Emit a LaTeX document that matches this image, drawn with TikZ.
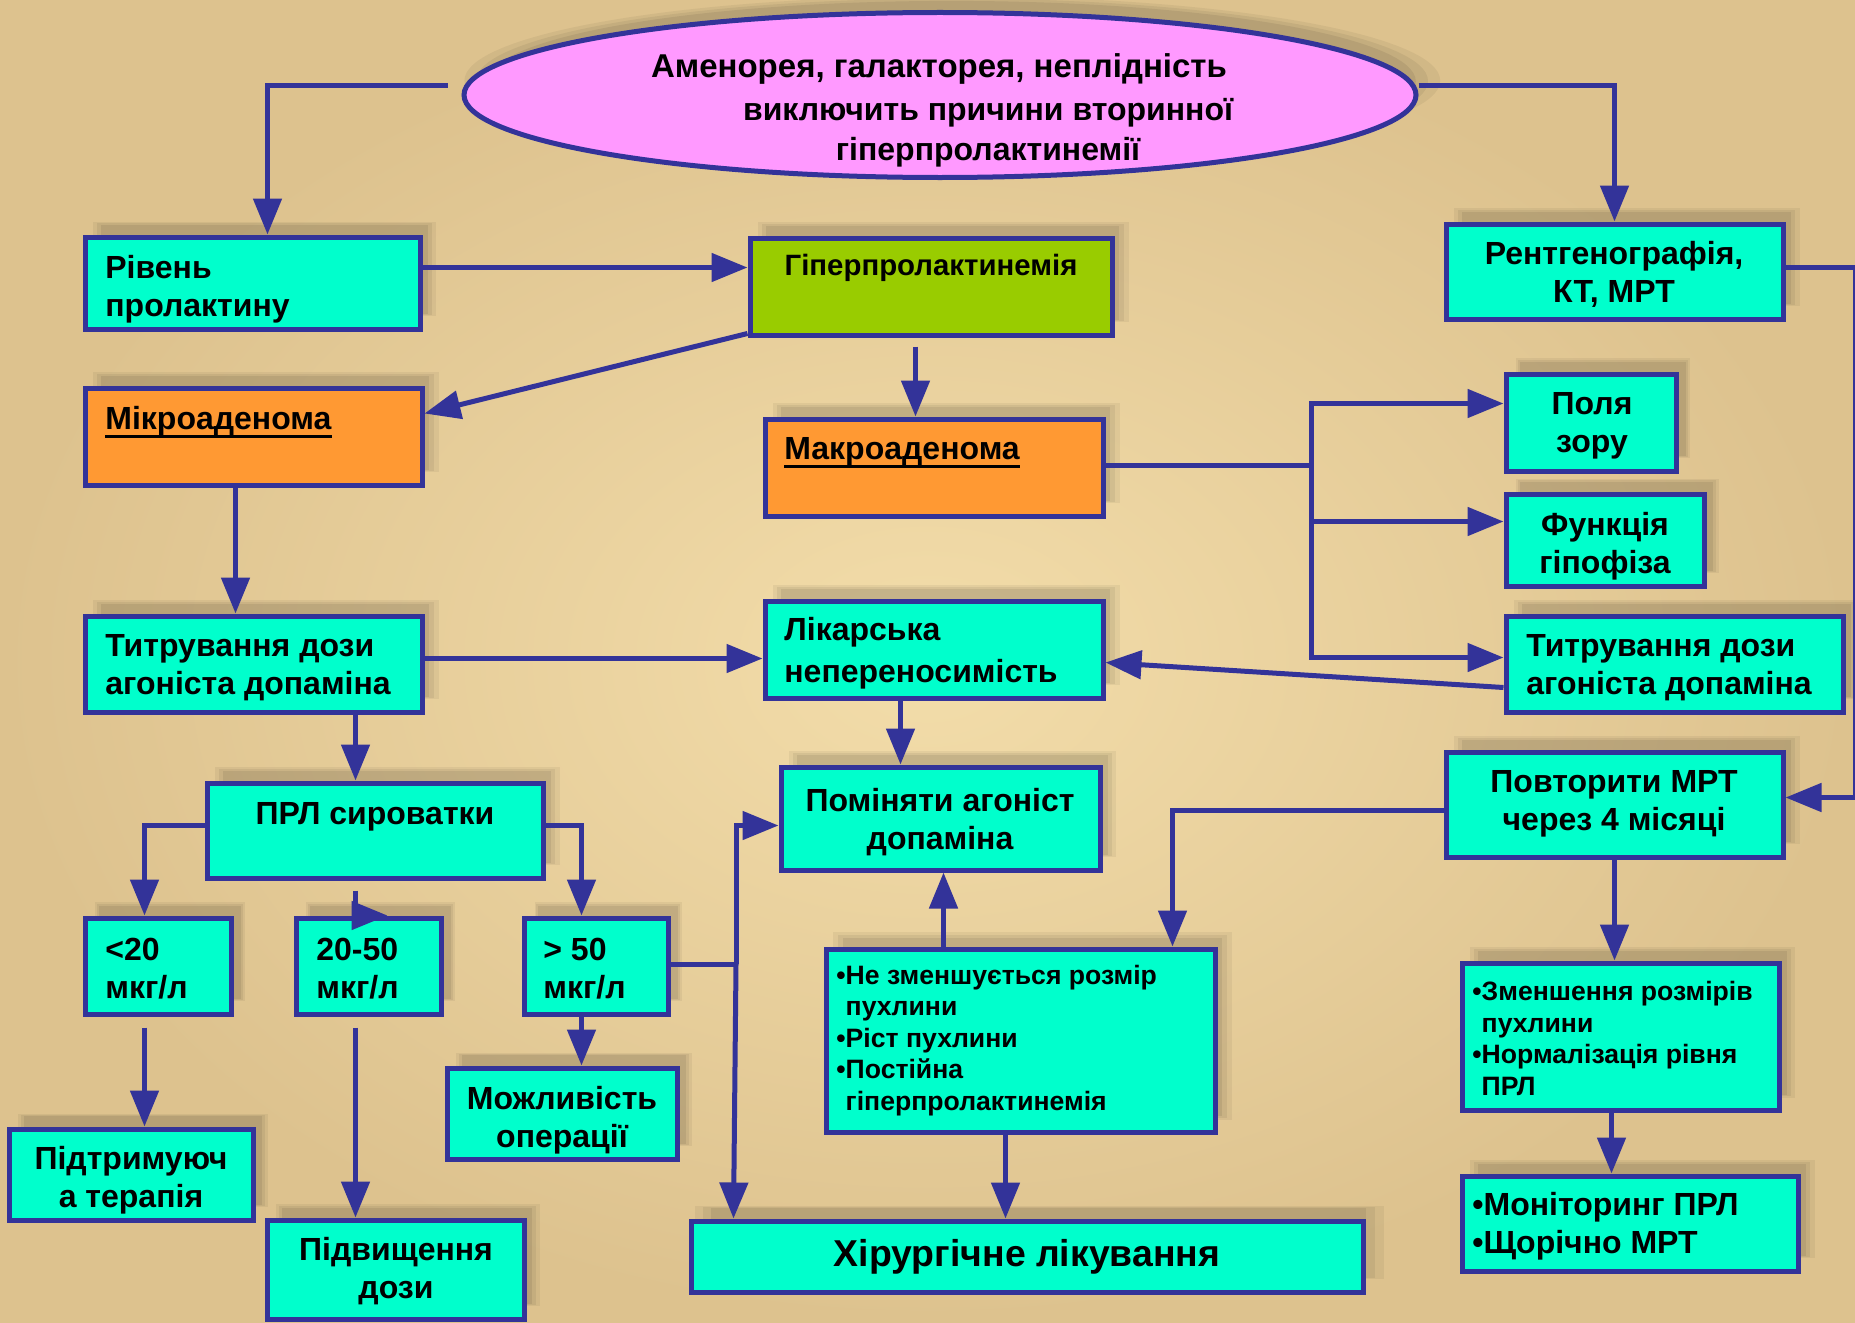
\documentclass[tikz,border=0pt]{standalone}
\usepackage{fontspec}
\setmainfont{Liberation Sans}
\usetikzlibrary{arrows.meta,shapes.geometric,fit,calc,shadows}
\definecolor{bl}{HTML}{333399}
\definecolor{aq}{HTML}{00FFCC}
\definecolor{gr}{HTML}{99CC00}
\definecolor{orn}{HTML}{FF9933}
\definecolor{pnk}{HTML}{FF99FF}
\definecolor{bgA}{HTML}{F3DDAA}
\definecolor{bgB}{HTML}{DDC28E}
\tikzset{
 shad/.style={
   drop shadow={shadow xshift=6pt, shadow yshift=7pt, shadow scale=1.025, opacity=0.05, fill=black},
   drop shadow={shadow xshift=6pt, shadow yshift=7pt, opacity=0.06, fill=black},
   drop shadow={shadow xshift=6pt, shadow yshift=7pt, shadow scale=0.975, opacity=0.07, fill=black}},
 boxst/.style={draw=bl, line width=2.5pt, inner sep=0pt, shad},
 txt/.style={inner sep=0pt, yshift=-1.75pt, font=\bfseries\fontsize{16}{19}\selectfont, text=black},
 smalltxt/.style={inner sep=0pt, yshift=-1.25pt, font=\bfseries\fontsize{13.3}{15.75}\selectfont, text=black},
 conn/.style={draw=bl, line width=2.5pt},
 arr/.style={conn, -{Triangle[length=18pt,width=14pt]}},
 uline/.style={draw=black, line width=1.5pt},
}
\newcommand\mkbox[6]{\node[boxst, fill=#6, fit={(#2,#3)(#4,#5)}] (#1) {};}
\begin{document}
\begin{tikzpicture}[x=0.5pt,y=-0.5pt]
\useasboundingbox (0,0) rectangle (1855,1322);
\shade[inner color=bgA, outer color=bgB] (0,0) rectangle (1855,1322);

% ellipse
\node[ellipse, draw=bl, line width=2.5pt, fill=pnk, minimum width=476pt, minimum height=82.5pt, inner sep=0pt, shad] (ell) at (940,95) {};
\node[txt, font=\bfseries\fontsize{16.5}{19}\selectfont] (e1) at (939,65) {Аменорея, галакторея, неплідність};
\node[txt] (e2) at (988,109) {виключить причини вторинної};
\node[txt] (e3) at (988,149) {гіперпролактинемії};

% boxes
\mkbox{riven}{85}{237}{420}{329}{aq}
\mkbox{giper}{750}{238}{1112}{335}{gr}
\mkbox{rentg}{1446}{224}{1783}{319}{aq}
\mkbox{mikro}{85}{388}{422}{485}{orn}
\mkbox{makro}{765}{419}{1103}{516}{orn}
\mkbox{polya}{1506}{374}{1676}{471}{aq}
\mkbox{funk}{1506}{494}{1704}{586}{aq}
\mkbox{titrR}{1506}{616}{1843}{712}{aq}
\mkbox{titrL}{85}{616}{422}{712}{aq}
\mkbox{likar}{765}{601}{1103}{698}{aq}
\mkbox{prl}{207}{783}{543}{878}{aq}
\mkbox{pomin}{781}{767}{1100}{870}{aq}
\mkbox{povt}{1446}{752}{1783}{857}{aq}
\mkbox{lt20}{85}{918}{231}{1014}{aq}
\mkbox{m2050}{296}{918}{441}{1014}{aq}
\mkbox{gt50}{524}{918}{668}{1014}{aq}
\mkbox{nezm}{826}{949}{1215}{1132}{aq}
\mkbox{zmen}{1462}{963}{1779}{1110}{aq}
\mkbox{mozh}{447}{1068}{677}{1159}{aq}
\mkbox{pidtr}{9}{1129}{253}{1220}{aq}
\mkbox{pidv}{267}{1220}{524}{1319}{aq}
\mkbox{hir}{691}{1221}{1363}{1292}{aq}
\mkbox{monit}{1462}{1176}{1798}{1271}{aq}

% texts
\node[txt, anchor=west, align=left] (rivenT) at (105,286) {Рівень\\пролактину};
\node[txt, font=\bfseries\fontsize{14.7}{19}\selectfont] (giperT) at (931,264) {Гіперпролактинемія};
\node[txt, align=center] (rentgT) at (1614,271) {Рентгенографія,\\КТ, МРТ};
\node[txt, anchor=west] (mikroT) at (105,418) {Мікроаденома};
\draw[uline] ($(mikroT.base west)+(0,7)$) -- ($(mikroT.base east)+(0,7)$);
\node[txt, anchor=west] (makroT) at (784,448) {Макроаденома};
\draw[uline] ($(makroT.base west)+(0,7)$) -- ($(makroT.base east)+(0,7)$);
\node[txt, align=center] (polyaT) at (1592,422) {Поля\\зору};
\node[txt, align=center] (funkT) at (1605,543) {Функція\\гіпофіза};
\node[txt, anchor=west, align=left] (titrRT) at (1526,664) {Титрування дози\\агоніста допаміна};
\node[txt, anchor=west, align=left] (titrLT) at (105,664) {Титрування дози\\агоніста допаміна};
\node[txt, anchor=west, align=left, font=\bfseries\fontsize{16}{21}\selectfont] (likarT) at (784,650) {Лікарська\\непереносимість};
\node[txt] (prlT) at (375,813) {ПРЛ сироватки};
\node[txt, align=center] (pominT) at (940,819) {Поміняти агоніст\\допаміна};
\node[txt, align=center] (povtT) at (1614,800) {Повторити МРТ\\через 4 місяці};
\node[txt, anchor=west, align=left] (lt20T) at (105,965) {<20\\мкг/л};
\node[txt, anchor=west, align=left] (m2050T) at (316,965) {20-50\\мкг/л};
\node[txt, anchor=west, align=left] (gt50T) at (543,965) {> 50\\мкг/л};
\node[smalltxt, anchor=west, align=left] (nezmT) at (836,1038) {•Не зменшується розмір\\\hphantom{•}пухлини\\•Ріст пухлини\\•Постійна\\\hphantom{•}гіперпролактинемія};
\node[smalltxt, anchor=west, align=left] (zmenT) at (1472,1036) {•Зменшення розмірів\\\hphantom{•}пухлини\\•Нормалізація рівня\\\hphantom{•}ПРЛ};
\node[txt, align=center] (mozhT) at (562,1117) {Можливість\\операції};
\node[txt, align=center] (pidtrT) at (131,1177) {Підтримуюч\\а терапія};
\node[txt, align=center] (pidvT) at (396,1268) {Підвищення\\дози};
\node[txt, font=\bfseries\fontsize{18.7}{22}\selectfont] (hirT) at (1027,1253) {Хірургічне лікування};
\node[txt, anchor=west, align=left] (monitT) at (1472,1223) {•Моніторинг ПРЛ\\•Щорічно МРТ};

% junction coordinates
\coordinate (jM) at (1311,465);
\coordinate (jG) at (736,964);

% connectors
\draw[arr] ($(ell.west)+(-14,-9)$) -| ($(riven.north west)+(185,0)$);
\draw[arr] ($(ell.east)+(0,-9)$) -| (rentg.north);
\draw[arr] ($(riven.north east)+(0,33)$) -- ($(giper.north west)+(0,32)$);
\draw[arr] ($(giper.south west)+(0,-4)$) -- ($(mikro.north east)+(0,28)$);
\draw[arr] ($(giper.south west)+(168,9)$) -- ($(makro.north west)+(153,0)$);
\draw[arr] ($(rentg.north east)+(0,46)$) -- ++(70,0) |- ($(povt.north east)+(0,48)$);
\draw[conn] (jM -| makro.east) -- (jM);
\draw[arr] (jM) |- ($(polya.north west)+(0,32)$);
\draw[arr] (jM) |- ($(funk.north west)+(0,30)$);
\draw[arr] (jM) |- ($(titrR.north west)+(0,44)$);
\draw[arr] ($(titrR.north west)+(0,74)$) -- ($(likar.north east)+(0,64)$);
\draw[arr] ($(mikro.south west)+(153,0)$) -- ($(titrL.north west)+(153,0)$);
\draw[arr] ($(titrL.north east)+(0,45)$) -- ($(likar.north west)+(0,60)$);
\draw[arr] ($(titrL.south west)+(273,0)$) -- ($(prl.north west)+(151,0)$);
\draw[arr] ($(likar.south west)+(138,0)$) -- ($(pomin.north west)+(122,0)$);
\draw[arr] ($(prl.north west)+(0,45)$) -| ($(lt20.north west)+(62,0)$);
\draw[arr] ($(prl.north east)+(0,45)$) -| ($(gt50.north west)+(60,0)$);
\draw[conn] ($(prl.south west)+(151,10)$) -- ($(m2050.north west)+(62,0)$);
\draw[arr] ($(m2050.north west)+(62,0)$) -- ++(32,0);
\draw[arr] ($(lt20.south west)+(62,11)$) -- ($(pidtr.north west)+(138,0)$);
\draw[arr] ($(m2050.south west)+(62,11)$) -- ($(pidv.north west)+(91,0)$);
\draw[arr] ($(gt50.south west)+(60,0)$) -- ($(mozh.north west)+(137,0)$);
\draw[conn] (jG -| gt50.east) -- (jG);
\draw[arr] (jG) |- ($(pomin.north west)+(0,61)$);
\draw[arr] (jG) -- ($(hir.north west)+(45,0)$);
\draw[arr] ($(nezm.north west)+(120,0)$) -- ($(pomin.south west)+(165,0)$);
\draw[arr] ($(nezm.south west)+(182,0)$) -- ($(hir.north west)+(317,0)$);
\draw[arr] ($(povt.north west)+(0,61)$) -| ($(nezm.north west)+(349,0)$);
\draw[arr] (povt.south) -- (povt.south |- zmen.north);
\draw[arr] ($(zmen.south west)+(152,0)$) -- ($(monit.north west)+(152,0)$);
\end{tikzpicture}
\end{document}
